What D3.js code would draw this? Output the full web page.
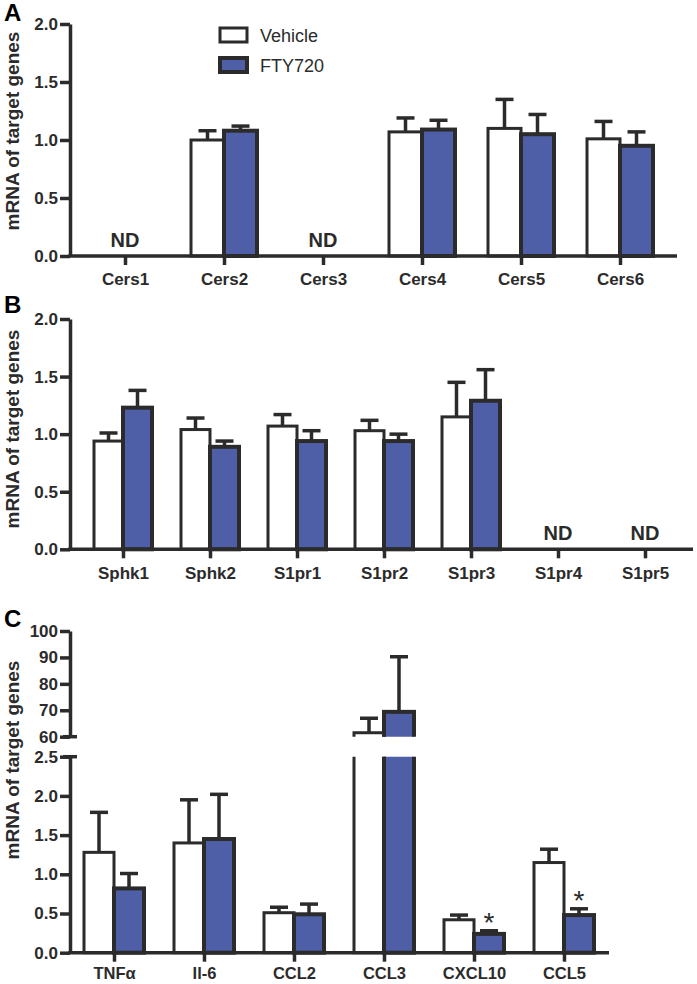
<!DOCTYPE html>
<html>
<head>
<meta charset="utf-8">
<script src="https://cdn.jsdelivr.net/npm/d3@7"></script>
<style>
  body { margin: 0; background: #fff; }
  svg { display: block; font-family: "Liberation Sans", Arial, Helvetica, sans-serif; }
</style>
</head>
<body>
<svg id="chart" width="697" height="984"></svg>
<script>
// ---------------- DATA ----------------
const seriesNames = ["Vehicle", "FTY720"];

const catsA = ["Cers1", "Cers2", "Cers3", "Cers4", "Cers5", "Cers6"];
const vehA = [null, 1.00, null, 1.07, 1.10, 1.01];
const vehErrA = [null, 0.08, null, 0.12, 0.25, 0.15];
const ftyA = [null, 1.08, null, 1.09, 1.05, 0.95];
const ftyErrA = [null, 0.04, null, 0.08, 0.17, 0.12];

const catsB = ["Sphk1", "Sphk2", "S1pr1", "S1pr2", "S1pr3", "S1pr4", "S1pr5"];
const vehB = [0.94, 1.04, 1.07, 1.03, 1.15, null, null];
const vehErrB = [0.07, 0.10, 0.10, 0.09, 0.30, null, null];
const ftyB = [1.23, 0.89, 0.94, 0.94, 1.29, null, null];
const ftyErrB = [0.15, 0.05, 0.09, 0.06, 0.27, null, null];

const catsC = ["TNFα", "Il-6", "CCL2", "CCL3", "CXCL10", "CCL5"];
const vehC = [1.28, 1.40, 0.51, 61.5, 0.42, 1.15];
const vehErrC = [0.51, 0.55, 0.07, 5.5, 0.06, 0.17];
const ftyC = [0.82, 1.45, 0.49, 69.4, 0.24, 0.48];
const ftyErrC = [0.19, 0.57, 0.13, 20.9, 0.04, 0.08];
const sigC = [false, false, false, false, true, true];

const ticksAB = [0, 0.5, 1.0, 1.5, 2.0];
const ticksCLow = [0, 0.5, 1.0, 1.5, 2.0, 2.5];
const ticksCHigh = [60, 70, 80, 90, 100];
const yLabel = "mRNA of target genes";

// ---------------- STYLE ----------------
const INK = "#2b2b2b";
const BLUE = "#4f5fa7";
const svg = d3.select("#chart");
const AXIS_X = 70;

function styleAxis(g, fontSize) {
  g.select(".domain").attr("stroke", INK).attr("stroke-width", 3.5);
  g.selectAll(".tick line").attr("stroke", INK).attr("stroke-width", 3.5);
  g.selectAll(".tick text").attr("fill", INK).attr("font-weight", "bold")
    .attr("font-size", fontSize).attr("font-family", "'Liberation Sans', Arial, sans-serif");
}

function drawPanel(cfg) {
  const g = svg.append("g");
  const x = d3.scalePoint().domain(cfg.cats).range(cfg.xRange).padding(0.5);
  const step = x.step();
  const bw = step / 3;
  const segs = cfg.segs;

  segs.forEach((s, i) => {
    s.clipId = cfg.id + "clip" + i;
    svg.append("clipPath").attr("id", s.clipId).append("rect")
      .attr("x", 0).attr("width", 697)
      .attr("y", s.clipTop).attr("height", s.clipBottom - s.clipTop);
  });

  const series = [
    { vals: cfg.veh, errs: cfg.vehErr, fill: "#ffffff", sw: 3, off: -1 },
    { vals: cfg.fty, errs: cfg.ftyErr, fill: BLUE, sw: 4, off: 0 }
  ];

  segs.forEach(s => {
    const layer = g.append("g").attr("clip-path", `url(#${s.clipId})`);
    series.forEach(se => {
      cfg.cats.forEach((c, i) => {
        const v = se.vals[i];
        if (v == null) return;
        if (v <= s.min) return;
        const xl = x(c) + se.off * bw;
        const cx = xl + bw / 2;
        const top = v > s.max ? s.scale(s.max) - 12 : s.scale(v);
        const bottom = s.min > 0 ? s.scale(s.min) + 12 : s.scale(0);
        const e = se.errs[i];
        if (e != null && v <= s.max) {
          const yt = s.scale(v + e);
          layer.append("line").attr("x1", cx).attr("x2", cx)
            .attr("y1", s.scale(v)).attr("y2", yt)
            .attr("stroke", INK).attr("stroke-width", 3.5);
          layer.append("line").attr("x1", cx - 9).attr("x2", cx + 9)
            .attr("y1", yt).attr("y2", yt)
            .attr("stroke", INK).attr("stroke-width", 3.5);
        }
        layer.append("rect")
          .attr("x", xl).attr("width", bw)
          .attr("y", top).attr("height", bottom - top)
          .attr("fill", se.fill).attr("stroke", INK).attr("stroke-width", se.sw);
      });
    });
  });

  if (cfg.sig) {
    const low = segs[segs.length - 1];
    cfg.cats.forEach((c, i) => {
      if (!cfg.sig[i]) return;
      const cx = x(c) + bw / 2;
      const yt = low.scale(cfg.fty[i] + cfg.ftyErr[i]);
      g.append("text").attr("x", cx).attr("y", yt + 1)
        .attr("text-anchor", "middle").attr("font-size", 28)
        .attr("fill", INK).text("*");
    });
  }

  cfg.cats.forEach((c, i) => {
    if (cfg.veh[i] == null && cfg.fty[i] == null) {
      g.append("text").attr("x", x(c)).attr("y", cfg.y0 - 9)
        .attr("text-anchor", "middle").attr("font-size", 20)
        .attr("font-weight", "bold").attr("fill", INK).text("ND");
    }
  });

  segs.forEach(s => {
    const ax = d3.axisLeft(s.scale).tickValues(s.ticks).tickFormat(s.fmt)
      .tickSize(10).tickSizeOuter(0).tickPadding(2);
    const ag = g.append("g").attr("transform", `translate(${AXIS_X},0)`).call(ax);
    styleAxis(ag, 17);
    [s.capTop, s.capBottom].forEach(cv => {
      if (cv == null) return;
      g.append("line").attr("x1", AXIS_X - 7).attr("x2", AXIS_X + 7)
        .attr("y1", s.scale(cv)).attr("y2", s.scale(cv))
        .attr("stroke", INK).attr("stroke-width", 3.5);
    });
  });

  g.append("line").attr("x1", AXIS_X - 1.75).attr("x2", cfg.xAxisEnd)
    .attr("y1", cfg.y0).attr("y2", cfg.y0)
    .attr("stroke", INK).attr("stroke-width", 3.5);
  const xa = d3.axisBottom(x).tickSize(9).tickSizeOuter(0).tickPadding(cfg.xPad);
  const xg = g.append("g").attr("transform", `translate(0,${cfg.y0})`).call(xa);
  xg.select(".domain").remove();
  styleAxis(xg, cfg.xFont);

  g.append("text")
    .attr("transform", `translate(19,${cfg.labelY}) rotate(-90)`)
    .attr("text-anchor", "middle").attr("font-size", 19).attr("font-weight", "bold")
    .attr("fill", INK).text(yLabel);

  g.append("text").attr("x", 4).attr("y", cfg.letterY)
    .attr("font-size", 24).attr("font-weight", "bold").attr("fill", "#000")
    .text(cfg.letter);
}

// Panel A
const yA = d3.scaleLinear().domain([0, 2]).range([256, 24]);
drawPanel({
  id: "A", letter: "A", letterY: 21, labelY: 131, xPad: 8, xFont: 17,
  cats: catsA, veh: vehA, vehErr: vehErrA, fty: ftyA, ftyErr: ftyErrA,
  xRange: [75.5, 669.5], xAxisEnd: 677, y0: yA(0),
  segs: [{ scale: yA, ticks: ticksAB, fmt: d3.format(".1f"), min: 0, max: 2,
           clipTop: 0, clipBottom: 300 }]
});

// Panel B
const yB = d3.scaleLinear().domain([0, 2]).range([549.3, 319]);
drawPanel({
  id: "B", letter: "B", letterY: 313, labelY: 429, xPad: 9, xFont: 17,
  cats: catsB, veh: vehB, vehErr: vehErrB, fty: ftyB, ftyErr: ftyErrB,
  xRange: [79.5, 688.5], xAxisEnd: 693, y0: yB(0),
  segs: [{ scale: yB, ticks: ticksAB, fmt: d3.format(".1f"), min: 0, max: 2,
           clipTop: 300, clipBottom: 600 }]
});

// Panel C (broken axis)
const yCHigh = d3.scaleLinear().domain([60, 100]).range([736.7, 631]);
const yCLow = d3.scaleLinear().domain([0, 2.5]).range([952.7, 756.7]);
drawPanel({
  id: "C", letter: "C", letterY: 627, labelY: 760, xPad: 6, xFont: 16.5,
  cats: catsC, veh: vehC, vehErr: vehErrC, fty: ftyC, ftyErr: ftyErrC, sig: sigC,
  xRange: [69, 609], xAxisEnd: 609, y0: yCLow(0),
  segs: [
    { scale: yCHigh, ticks: ticksCHigh, fmt: d3.format("d"), min: 60, max: 100,
      clipTop: 600, clipBottom: yCHigh(60), capBottom: 60 },
    { scale: yCLow, ticks: ticksCLow, fmt: d3.format(".1f"), min: 0, max: 2.5,
      clipTop: yCLow(2.5), clipBottom: 984, capTop: 2.5 }
  ]
});

// Legend
const legend = svg.append("g");
[{ fill: "#ffffff", sw: 3, y: 28, ty: 41.5 }, { fill: BLUE, sw: 4, y: 58, ty: 72 }].forEach((d, i) => {
  legend.append("rect").attr("x", 220).attr("y", d.y).attr("width", 27).attr("height", 14)
    .attr("fill", d.fill).attr("stroke", INK).attr("stroke-width", d.sw);
  legend.append("text").attr("x", 260).attr("y", d.ty).attr("font-size", 18)
    .attr("fill", INK).text(seriesNames[i]);
});
</script>
</body>
</html>
